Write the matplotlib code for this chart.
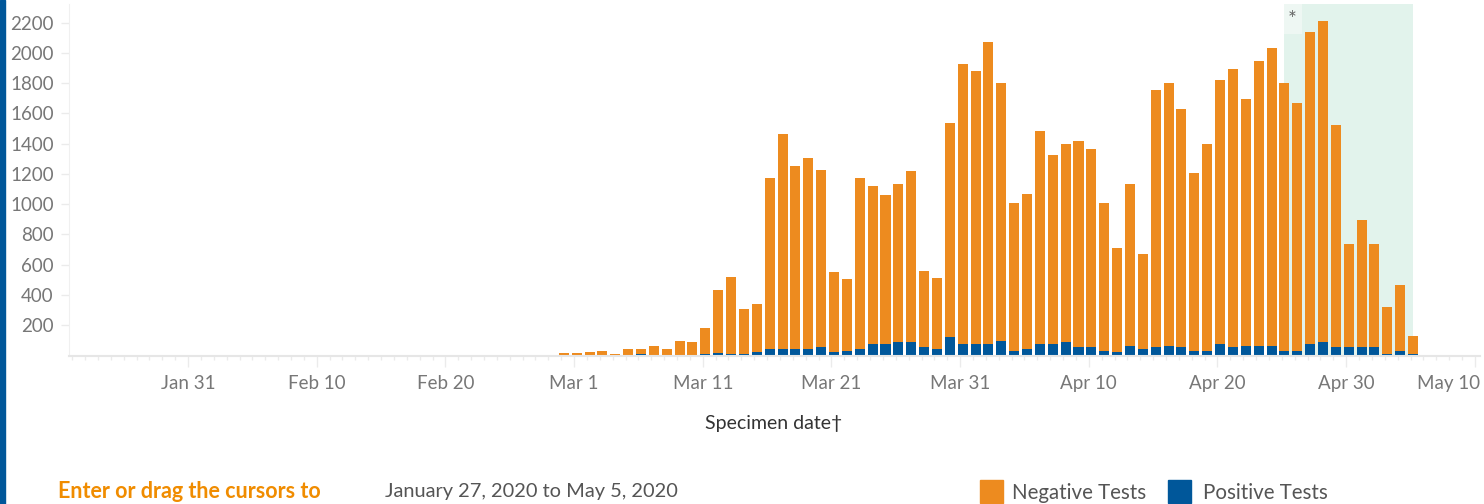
import numpy as np
import pandas as pd
import matplotlib
matplotlib.use("Agg")
import matplotlib.pyplot as plt
import matplotlib.dates as mdates
import matplotlib.transforms as mtransforms
from matplotlib.patches import Rectangle

plt.rcParams['font.family'] = ['Lato', 'DejaVu Sans']

# daily specimen counts, Feb 29 to May 5 2020
dates = pd.date_range("2020-02-29", "2020-05-05", freq="D")
negative = [15, 15, 26, 33, 13, 46, 39, 66, 46, 99, 86, 177, 418, 513, 302, 317,
            1135, 1419, 1208, 1261, 1175, 528, 475, 1135, 1049, 984, 1049, 1135,
            508, 469, 1419, 1848, 1808, 2000, 1703, 977, 1029, 1406, 1248, 1313,
            1366, 1313, 977, 687, 1069, 627, 1703, 1736, 1577, 1175, 1366, 1743,
            1841, 1630, 1881, 1967, 1769, 1637, 2060, 2125, 1472, 686, 845, 686,
            310, 436, 119]
positive = [0, 0, 0, 0, 0, 0, 7, 0, 0, 0, 0, 8, 18, 8, 8, 26,
            40, 46, 46, 46, 53, 26, 33, 40, 73, 79, 86, 86,
            53, 46, 119, 79, 73, 73, 99, 33, 40, 79, 79, 86,
            53, 53, 33, 26, 66, 46, 53, 66, 53, 33, 33, 79,
            53, 66, 66, 66, 33, 33, 79, 86, 53, 53, 53, 53,
            13, 33, 13]
yticks = [200, 400, 600, 800, 1000, 1200, 1400, 1600, 1800, 2000, 2200]
xticks = ["2020-01-31", "2020-02-10", "2020-02-20", "2020-03-01", "2020-03-11",
          "2020-03-21", "2020-03-31", "2020-04-10", "2020-04-20", "2020-04-30",
          "2020-05-10"]
shade_start, shade_end = "2020-04-25", "2020-05-05"

ORANGE = "#ED8B1F"
BLUE = "#00579A"
W, H = 1484, 504

fig = plt.figure(figsize=(W / 100, H / 100), dpi=100)
ax = fig.add_axes([69 / W, (H - 355.5) / H, (1480 - 69) / W, (355.5 - 4) / H])

x = mdates.date2num(dates) + 0.2
neg = np.array(negative)
pos = np.array(positive)
ax.bar(x, pos, width=0.78, color=BLUE, zorder=3)
ax.bar(x, neg, width=0.78, bottom=pos, color=ORANGE, zorder=3)

# provisional data shading
s0 = mdates.datestr2num(shade_start) + 0.2
s1 = mdates.datestr2num(shade_end) + 0.2
ax.axvspan(s0, s1, color="#E2F3EC", zorder=1, lw=0)
ax.add_patch(Rectangle((s0, 2125), 1.4, 200, color="#EEF7F3", zorder=2, lw=0))
ax.text(s0 + 0.6, 2215, "*", ha="center", va="center", fontsize=15, color="#666666", zorder=4)

ax.set_xlim(mdates.datestr2num("2020-01-31") - 9.25, mdates.datestr2num("2020-05-10") + 0.4)
ax.set_ylim(0, 2323)

ax.set_yticks(yticks)
ax.set_yticklabels([str(v) for v in yticks])
major = [mdates.datestr2num(d) for d in xticks]
ax.set_xticks(major)
ax.set_xticklabels([pd.Timestamp(d).strftime("%b %-d") for d in xticks])
ax.set_xticks(np.arange(np.ceil(ax.get_xlim()[0]), ax.get_xlim()[1]), minor=True)

ax.tick_params(axis="y", length=6, width=1, color="#EBEBEB", labelcolor="#777777",
               labelsize=13.5, pad=5)
ax.tick_params(axis="x", which="major", length=8, width=1, color="#EBEBEB",
               labelcolor="#777777", labelsize=13.5, pad=6)
ax.tick_params(axis="x", which="minor", length=3, width=1, color="#EBEBEB")

# last date label is pulled inside the plot edge
last = ax.get_xticklabels()[-1]
last.set_horizontalalignment("right")
last.set_transform(last.get_transform() +
                   mtransforms.ScaledTranslation(5 / 100, 0, fig.dpi_scale_trans))

for side in ["top", "right"]:
    ax.spines[side].set_visible(False)
ax.spines["left"].set_color("#F0F0F0")
ax.spines["bottom"].set_color("#E6E6E6")
ax.spines["bottom"].set_linewidth(1.5)
ax.spines["bottom"].set_zorder(5)

# left blue strip
fig.patches.append(Rectangle((0, 0), 5 / W, 1, transform=fig.transFigure,
                             color=BLUE, zorder=0))

fig.text(774 / W, 1 - 423 / H, "Specimen date\u2020", ha="center", va="center",
         fontsize=14, color="#333333")
fig.text(58 / W, 1 - 492 / H, "Enter or drag the cursors to", ha="left", va="center",
         fontsize=15.5, fontweight="bold", color="#F08C00")
fig.text(385 / W, 1 - 492 / H, "January 27, 2020 to May 5, 2020", ha="left", va="center",
         fontsize=14.4, color="#555555")

# legend
fig.patches.append(Rectangle((980 / W, 1 - 503 / H), 23 / W, 23 / H,
                             transform=fig.transFigure, color=ORANGE))
fig.text(1012 / W, 1 - 493 / H, "Negative Tests", ha="left", va="center",
         fontsize=14.8, color="#555555")
fig.patches.append(Rectangle((1168 / W, 1 - 503 / H), 23 / W, 23 / H,
                             transform=fig.transFigure, color=BLUE))
fig.text(1203 / W, 1 - 493 / H, "Positive Tests", ha="left", va="center",
         fontsize=14.8, color="#555555")

fig.savefig("out.png", dpi=100)
